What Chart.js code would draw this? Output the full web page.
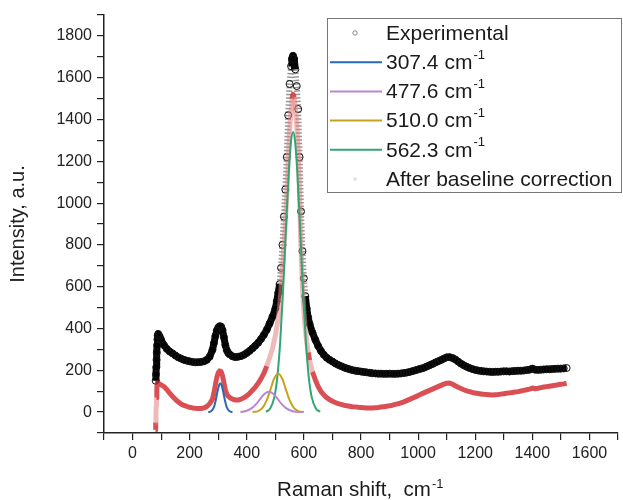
<!DOCTYPE html>
<html>
<head>
<meta charset="utf-8">
<script src="https://cdn.jsdelivr.net/npm/chart.js@4"></script>
<style>
  body { margin: 0; background: #fff; }
  #wrap { width: 623px; height: 500px; }
</style>
</head>
<body>
<div id="wrap"><canvas id="c" width="623" height="500"></canvas></div>
<script>
// Raman shift (cm-1) and intensities
const expShift = [81,82,83,84,85,86,87,88,90,95,100,110,120,130,140,150,160,170,180,190,200,210,220,230,240,250,260,270,280,285,290,295,300,305,310,315,320,325,330,335,340,350,360,370,380,390,400,410,420,430,440,450,460,470,480,490,500,505,510,515,520,525,530,535,540,545,550,555,558,562,566,570,575,580,585,590,595,600,605,610,615,620,630,640,650,660,670,680,690,700,710,720,730,740,750,760,770,780,790,800,810,820,830,840,850,860,870,880,890,900,910,920,930,940,950,960,970,980,990,1000,1010,1020,1030,1040,1050,1060,1070,1080,1090,1100,1110,1120,1130,1140,1150,1160,1170,1180,1190,1200,1210,1220,1230,1240,1250,1260,1270,1280,1290,1300,1310,1320,1330,1340,1350,1360,1370,1380,1390,1400,1410,1420,1430,1440,1450,1460,1470,1480,1490,1500,1510,1520];
const expIntensity = [150,180,215,250,285,320,348,366,374,362,346,320,302,290,281,271,262,256,250,246,243,240,238,239,240,243,250,265,298,330,364,390,404,411,409,392,358,320,296,283,276,267,263,265,268,274,283,293,305,318,332,350,370,394,424,456,495,530,570,612,690,800,935,1065,1220,1420,1570,1655,1690,1705,1690,1640,1560,1450,1220,960,770,640,555,495,452,422,380,346,316,292,274,260,250,242,233,226,220,214,209,205,201,198,196,194,192,190,188,186,185,184,184,183,183,184,183,183,184,185,187,189,192,196,200,204,208,212,218,224,230,237,243,249,256,262,263,259,252,242,232,224,217,211,206,202,199,197,195,194,193,192,193,193,194,195,195,194,196,197,198,198,199,201,203,208,203,202,203,204,205,205,206,207,208,208,209,211];

const corrShift = [80,81,82,83,84,85,86,88,90,95,100,110,120,130,140,150,160,170,180,190,200,210,220,230,240,250,260,270,280,285,290,295,300,305,310,315,320,325,330,335,340,350,360,370,380,390,400,410,420,430,440,450,460,470,480,490,500,505,510,515,520,525,530,535,540,545,550,555,558,562,566,570,575,580,585,590,595,600,605,610,615,620,630,640,650,660,670,680,690,700,710,720,730,740,750,760,770,780,790,800,810,820,830,840,850,860,870,880,890,900,910,920,930,940,950,960,970,980,990,1000,1010,1020,1030,1040,1050,1060,1070,1080,1090,1100,1110,1120,1130,1140,1150,1160,1170,1180,1190,1200,1210,1220,1230,1240,1250,1260,1270,1280,1290,1300,1310,1320,1330,1340,1350,1360,1370,1380,1390,1400,1410,1420,1430,1440,1450,1460,1470,1480,1490,1500,1510,1520];
const corrIntensity = [-85,-50,-10,30,70,105,135,140,138,134,130,122,108,91,75,61,49,39,32,27,23,20,18,17,17,20,27,40,62,92,130,166,188,197,194,174,140,106,86,76,70,62,58,58,62,69,78,90,104,120,138,160,186,220,260,305,365,405,448,505,585,675,790,905,1035,1200,1350,1450,1500,1520,1505,1450,1370,1260,1040,780,600,480,400,335,285,248,192,155,122,98,82,69,60,52,46,41,37,33,30,28,26,25,23,22,21,20,20,20,21,22,24,26,28,30,33,37,40,44,49,55,61,67,73,79,86,92,98,104,110,116,122,128,134,138,139,134,126,119,113,107,102,98,94,91,89,87,85,84,83,82,83,84,86,88,90,92,94,96,98,101,104,107,110,115,112,114,117,120,122,124,126,128,131,133,135,138];

// fitted components
const p307Shift = [265,275,285,292,298,303,307.4,312,317,323,330,340,350];
const p307Int   = [0,4,24,61,102,129,138,128,100,59,23,4,0];
const p477Shift = [377.6,397.6,417.6,432.6,447.6,462.6,477.6,492.6,507.6,522.6,537.6,557.6,577.6,597];
const p477Int   = [1,5,19,38,64,88,97,88,64,38,19,5,1,0];
const p510Shift = [420,440,455,470,482,495,510,525,538,550,565,580,600];
const p510Int   = [0,5,20,57,104,157,185,157,104,57,20,5,0];
const p562Shift = [467,482,497,507,517,527,537,547,555,562.3,569,577,587,597,607,617,627,642,657];
const p562Int   = [2,17,74,169,335,579,873,1148,1296,1340,1296,1148,873,579,335,169,74,17,2];

const seriesLabels = ['Experimental','307.4 cm-1','477.6 cm-1','510.0 cm-1','562.3 cm-1','After baseline correction'];
const xTitle = 'Raman shift,  cm-1';
const yTitle = 'Intensity, a.u.';

const FONT = '"Liberation Sans", Arial, sans-serif';

function pts(xs, ys) {
  return xs.map((x, i) => ({ x: x, y: ys[i] }));
}

// text with "-1" drawn as superscript
function drawSup(ctx, text, x, y, size) {
  let base = text, sup = '';
  if (text.endsWith('-1')) { base = text.slice(0, -2); sup = '-1'; }
  ctx.font = size + 'px ' + FONT;
  ctx.fillText(base, x, y);
  if (sup) {
    const w = ctx.measureText(base).width;
    ctx.font = Math.round(size * 0.62) + 'px ' + FONT;
    ctx.fillText(sup, x + w + 1, y - size * 0.38);
  }
}

const steep = (c, lim) => Math.abs(c.p1.y - c.p0.y) > lim;

const compLine = (color) => ({
  borderColor: color, borderWidth: 2, pointRadius: 0,
  cubicInterpolationMode: 'monotone', order: 1, fill: false
});

const legendBox = {
  id: 'legendBox',
  afterDraw(chart) {
    const ctx = chart.ctx;
    ctx.save();
    ctx.strokeStyle = '#777';
    ctx.lineWidth = 1;
    ctx.strokeRect(327.5, 18.5, 294, 174);
    ctx.textBaseline = 'middle';
    chart.data.datasets.forEach((ds, i) => {
      const y = 33 + i * 29.2;
      if (i === 0) {
        ctx.beginPath();
        ctx.arc(355, y, 2.2, 0, Math.PI * 2);
        ctx.strokeStyle = '#888'; ctx.lineWidth = 1;
        ctx.stroke();
      } else if (i === 5) {
        ctx.beginPath();
        ctx.arc(355, y, 2, 0, Math.PI * 2);
        ctx.fillStyle = '#e4e4e4';
        ctx.fill();
      } else {
        ctx.beginPath();
        ctx.moveTo(330, y); ctx.lineTo(382, y);
        ctx.strokeStyle = ds.borderColor; ctx.lineWidth = 2;
        ctx.stroke();
      }
      ctx.fillStyle = '#1a1a1a';
      drawSup(ctx, ds.label, 386, y + 1, 21);
    });
    // x axis title
    ctx.textBaseline = 'alphabetic';
    ctx.textAlign = 'left';
    ctx.font = '20.5px ' + FONT;
    const w = ctx.measureText(xTitle.slice(0, -2)).width + 14;
    const xa = chart.chartArea;
    drawSup(ctx, xTitle, (xa.left + xa.right) / 2 - w / 2, 496, 20.5);
    ctx.restore();
  }
};

new Chart(document.getElementById('c'), {
  type: 'line',
  data: {
    datasets: [
      {
        label: seriesLabels[0], data: pts(expShift, expIntensity),
        borderColor: '#000', borderWidth: 7, order: 3,
        borderJoinStyle: 'round', borderCapStyle: 'butt',
        pointRadius: 3.5, pointBorderWidth: 1, pointBorderColor: '#111',
        pointBackgroundColor: 'rgba(255,255,255,0)',
        segment: {
          borderColor: c => steep(c, 14) ? 'rgba(80,80,80,0.6)' : undefined,
          borderWidth: c => steep(c, 14) ? 6 : undefined,
          borderDash: c => steep(c, 14) ? [1.5, 2] : undefined
        }
      },
      Object.assign({ label: seriesLabels[1], data: pts(p307Shift, p307Int) }, compLine('rgb(40,105,180)')),
      Object.assign({ label: seriesLabels[2], data: pts(p477Shift, p477Int) }, compLine('rgb(185,135,210)')),
      Object.assign({ label: seriesLabels[3], data: pts(p510Shift, p510Int) }, compLine('rgb(200,162,30)')),
      Object.assign({ label: seriesLabels[4], data: pts(p562Shift, p562Int) }, compLine('rgb(50,165,115)')),
      {
        label: seriesLabels[5], data: pts(corrShift, corrIntensity),
        borderColor: 'rgba(210,40,45,0.82)', borderWidth: 5, pointRadius: 0, order: 2,
        borderJoinStyle: 'round',
        segment: {
          borderColor: c => steep(c, 8) ? 'rgba(228,130,130,0.55)' : undefined,
          borderWidth: c => steep(c, 8) ? 5 : undefined
        }
      }
    ]
  },
  options: {
    responsive: false,
    animation: false,
    layout: { padding: { top: 15, right: 1, left: 0, bottom: 0 } },
    plugins: { legend: { display: false }, tooltip: { enabled: false } },
    scales: {
      x: {
        type: 'linear', min: -100, max: 1700,
        afterFit: s => { s.height = 67; },
        grid: { drawOnChartArea: false, tickLength: 7, color: '#222', lineWidth: 1.2 },
        border: { color: '#222', width: 1.5 },
        ticks: {
          stepSize: 100, autoSkip: false, maxRotation: 0, padding: 4,
          color: '#222', font: { family: FONT, size: 16 },
          callback: v => (v % 200 === 0 && v >= 0 && v <= 1600) ? v : ''
        }
      },
      y: {
        min: -100, max: 1900,
        afterFit: s => { s.width = 104; },
        grid: { drawOnChartArea: false, tickLength: 7, color: '#222', lineWidth: 1.2 },
        border: { color: '#222', width: 1.5 },
        title: { display: true, text: yTitle, color: '#222', font: { family: FONT, size: 20 }, padding: { top: 6 } },
        ticks: {
          stepSize: 100, autoSkip: false, padding: 5,
          color: '#222', font: { family: FONT, size: 16 },
          callback: v => (v % 200 === 0 && v >= 0 && v <= 1800) ? v : ''
        }
      }
    }
  },
  plugins: [legendBox]
});
</script>
</body>
</html>
